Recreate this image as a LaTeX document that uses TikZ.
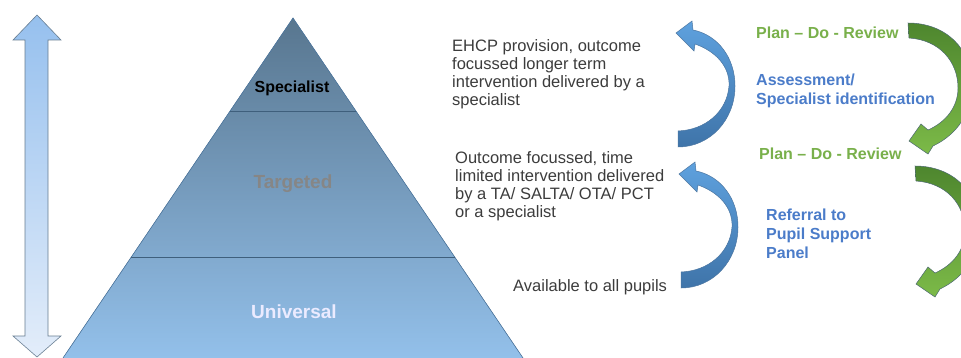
\documentclass[tikz,border=0pt]{standalone}
\usepackage{fontspec}
\setmainfont{Liberation Sans}
\usetikzlibrary{calc}
\definecolor{pyrtop}{HTML}{58768F}
\definecolor{pyrbot}{HTML}{93C0EA}
\definecolor{pyredge}{HTML}{4F7AA3}
\definecolor{divline}{HTML}{3F5F7C}
\definecolor{txtgray}{HTML}{3C3C3C}
\definecolor{lblgreen}{HTML}{79B04B}
\definecolor{lblblue}{HTML}{4B7CC9}
\definecolor{arrtop}{HTML}{96C0EE}
\definecolor{arrbot}{HTML}{E3EDFA}
\definecolor{bluetop}{HTML}{5EA1DE}
\definecolor{bluebot}{HTML}{3F74A9}
\definecolor{greentop}{HTML}{4E862E}
\definecolor{greenbot}{HTML}{7CBA48}
\begin{document}
\begin{tikzpicture}[>=stealth,x=1pt,y=-1pt,
	chu/.style={font=\fontsize{16.5}{18}\selectfont,text=txtgray,align=left,inner sep=0pt,anchor=north west},
	nhan/.style={font=\bfseries\fontsize{16}{19}\selectfont,align=left,inner sep=0pt,anchor=north west},
	tang/.style={font=\bfseries\fontsize{19}{21}\selectfont,inner sep=0pt},
	muixanh/.style={draw=bluebot!80!gray,line width=0.5pt,top color=bluetop,bottom color=bluebot},
	muila/.style={draw=greentop!70!blue!70!gray,line width=0.5pt,top color=greentop,bottom color=greenbot}]
	\useasboundingbox (0,0) rectangle (961,358);
	\clip (0,0) rectangle (961,358);
	
	% Mũi tên hai đầu bên trái
	\draw[draw=pyredge!50!gray,line width=0.6pt,top color=arrtop,bottom color=arrbot]
	(37,15)--(61,40)--(48,40)--(48,336)--(61,336)--(37,357)--(13,336)--(25,336)--(25,40)--(13,40)--cycle;
	
	% Kim tự tháp
	\coordinate (A) at (293,18); \coordinate (B) at (63,358); \coordinate (C) at (523,358);
	\fill[top color=pyrtop,bottom color=pyrbot] (A)--(B)--(C)--cycle;
	\draw[pyredge,line width=0.6pt] (B)--(A)--(C);
	\draw[divline,line width=0.8pt] ($(A)!0.2735!(B)$)--($(A)!0.2735!(C)$); % vạch 1
	\draw[divline,line width=0.8pt] ($(A)!0.703!(B)$)--($(A)!0.703!(C)$); % vạch 2
	\node[tang,font=\bfseries\fontsize{16}{19}\selectfont,text=black] (sp) at (292,88) {Specialist};
	\node[tang,text=gray!95] (tg) at (293,184) {Targeted};
	\node[tang,text=white!92!blue] (un) at (294,312) {Universal};
	
	% Mô tả
	\node[chu] (ehcp) at (452,39) {EHCP provision, outcome\\focussed longer term\\intervention delivered by a\\specialist};
	\node[chu] (outc) at (455,151) {Outcome focussed, time\\limited intervention delivered\\by a TA/ SALTA/ OTA/ PCT\\or a specialist};
	\node[chu] (avai) at (513,279) {Available to all pupils};
	
	% Mũi tên cong xanh dương
	\foreach \dx/\dy in {0/0,3/141}
	\draw[muixanh,shift={(\dx,\dy)}] (678,147) -- (678,131) .. controls (705,130) and (727,112) .. (729,86)
	.. controls (730,66) and (715,51) .. (695,44) -- (694,51) -- (676,33) -- (692,21) -- (693,30)
	.. controls (718,35) and (735,58) .. (735,86) .. controls (735,120) and (710,147) .. (678,147) -- cycle;
	
	% Mũi tên cong xanh lá
	\foreach \dx/\dy in {0/0,7/143}
	\draw[muila,shift={(\dx,\dy)}] (908,23) -- (909,38) .. controls (940,40) and (958,62) .. (958,88)
	.. controls (958,107) and (946,122) .. (928,130) -- (921,124) -- (909,141) -- (928,154) -- (933,146)
	.. controls (958,134) and (972,112) .. (972,85) .. controls (972,48) and (945,23) .. (908,23) -- cycle;
	
	% Nhãn bên phải
	\node[nhan,text=lblgreen] (pdr1) at (756,27) {Plan – Do - Review};
	\node[nhan,text=lblblue] (ass) at (756,74) {Assessment/\\Specialist identification};
	\node[nhan,text=lblgreen] (pdr2) at (759,148) {Plan – Do - Review};
	\node[nhan,text=lblblue] (ref) at (766,209) {Referral to\\Pupil Support\\Panel};
\end{tikzpicture}
\end{document}
